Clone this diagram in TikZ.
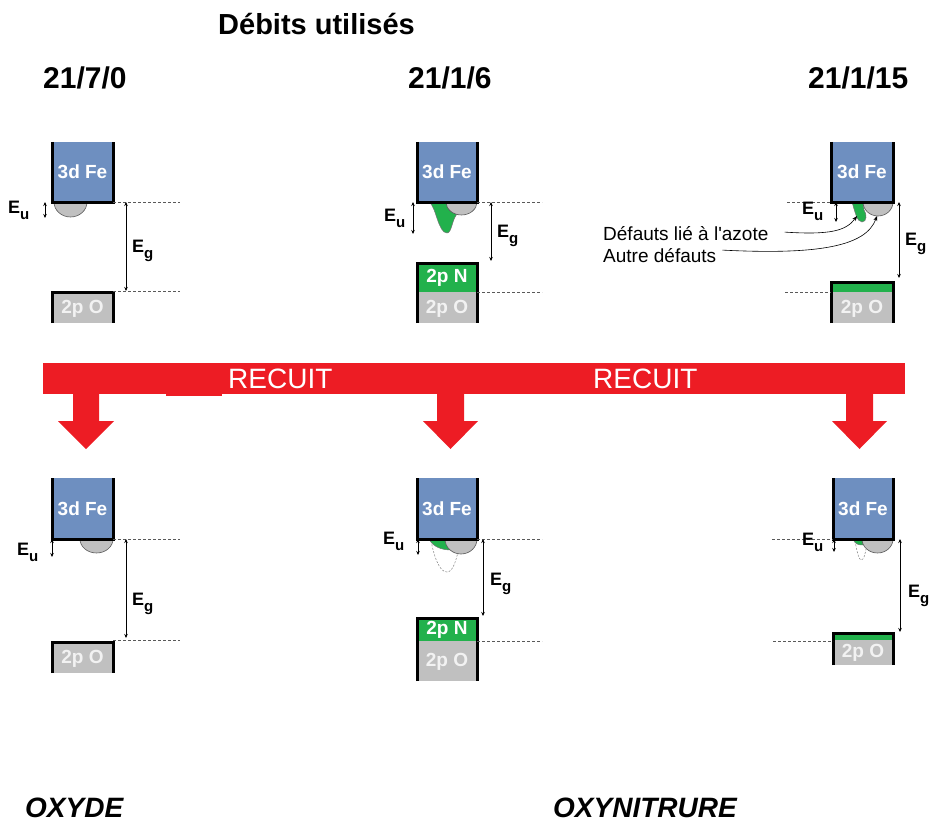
\documentclass[tikz,border=0pt]{standalone}
\usepackage{fontspec}
\setmainfont{Liberation Sans}
\newfontfamily\plainsans{Liberation Sans}
\usetikzlibrary{arrows.meta}
\definecolor{feblue}{RGB}{110,143,192}
\definecolor{bandgray}{RGB}{192,192,192}
\definecolor{ngreen}{RGB}{34,177,76}
\definecolor{recred}{RGB}{237,28,36}
\newcommand{\myE}[1]{{\fontsize{18}{20}\selectfont\bfseries E\raisebox{-6pt}{\fontsize{15}{16}\selectfont #1}}}
\newcommand{\halfell}[4]{({#1-#3},#2) .. controls ({#1-#3},{#2+0.552*#4}) and ({#1-0.552*#3},{#2+#4}) .. ({#1},{#2+#4}) .. controls ({#1+0.552*#3},{#2+#4}) and ({#1+#3},{#2+0.552*#4}) .. ({#1+#3},#2) -- cycle}
\newcommand{\FeBand}[5]{%
  \fill[feblue] (#1,#3) rectangle (#2,#4);
  \draw[bandedge] (#1,#3) -- (#1,#4) -- (#2,#4) -- (#2,#3);
  \node[bandtxt] (#5) at ({(#1+#2)/2},{(#3+#4)/2}) {3d Fe};}
\tikzset{
  lbl/.style={anchor=base west, inner sep=0pt},
  bandtxt/.style={text=white, font=\fontsize{19}{22}\selectfont\bfseries, inner sep=0pt},
  otxt/.style={text=white!95!black, font=\fontsize{19}{22}\selectfont\bfseries, inner sep=0pt},
  dashref/.style={dashed, dash pattern=on 3pt off 2pt, draw=black!65, line width=0.7pt},
  darrow/.style={{Stealth[length=4pt,width=3.5pt]}-{Stealth[length=4pt,width=3.5pt]}, line width=0.6pt},
  bandedge/.style={line width=3pt, line join=miter},
  graydef/.style={fill=bandgray, draw=black!65, line width=0.6pt},
  greendef/.style={fill=ngreen, draw=black!55, line width=0.5pt},
  ghost/.style={dashed, dash pattern=on 2pt off 1.5pt, draw=black!50, line width=0.5pt},
  point/.style={-{Stealth[length=5pt,width=4pt]}, line width=0.6pt},
}
\begin{document}
\begin{tikzpicture}[x=1pt,y=-1pt]
\useasboundingbox (0,0) rectangle (934,824);

% ---------- titles ----------
\node[lbl, font=\fontsize{29}{34}\selectfont\bfseries] (title) at (218,35) {Débits utilisés};
\node[lbl, font=\fontsize{30}{34}\selectfont\bfseries] (t1) at (43,89) {21/7/0};
\node[lbl, font=\fontsize{30}{34}\selectfont\bfseries] (t2) at (408,89) {21/1/6};
\node[lbl, font=\fontsize{30}{34}\selectfont\bfseries] (t3) at (808,89) {21/1/15};

% ================= TOP ROW =================
% column 1
\draw[graydef] \halfell{70.5}{202}{16.5}{15};
\FeBand{52}{113}{142}{202}{fe1}
\fill[bandgray] (52,292) rectangle (113,323);
\draw[bandedge] (52,323) -- (52,292) -- (113,292) -- (113,323);
\node[otxt] (o1) at (82.5,309) {2p O};
\draw[dashref] (113,202) -- (180,202);
\draw[dashref] (113,291) -- (180,291);
\draw[darrow] (45,202) -- (45,218);
\draw[darrow] (126,202) -- (126,291);
\node[lbl] (eu1) at (8,213) {\myE{u}};
\node[lbl] (eg1) at (132,252) {\myE{g}};

% column 2
\draw[greendef] (429,202) .. controls (436,206) and (438,233) .. (447,233) .. controls (452,233) and (452,218) .. (458,213) -- (462,202) -- cycle;
\draw[graydef] \halfell{461.5}{202}{15.5}{13};
\FeBand{417}{477}{142}{202}{fe2}
\fill[ngreen] (417,263) rectangle (477,292);
\fill[bandgray] (417,292) rectangle (477,323);
\draw[bandedge] (417,323) -- (417,263) -- (477,263) -- (477,323);
\node[bandtxt] (n2) at (447,278) {2p N};
\node[otxt] (o2) at (447,309) {2p O};
\draw[dashref] (477,202) -- (542,202);
\draw[dashref] (477,292) -- (542,292);
\draw[darrow] (413,202) -- (413,234);
\draw[darrow] (491,202) -- (491,261);
\node[lbl] (eu2) at (384,221) {\myE{u}};
\node[lbl] (eg2) at (497,237) {\myE{g}};

% column 3
\draw[greendef] (852,202) .. controls (855,212) and (857,222) .. (862,222) .. controls (867,222) and (867,214) .. (864,210) -- (863,202) -- cycle;
\draw[graydef] \halfell{878}{202}{15}{14};
\FeBand{831}{893}{142}{202}{fe3}
\fill[ngreen] (831,282) rectangle (893,292);
\fill[bandgray] (831,292) rectangle (893,323);
\draw[bandedge] (831,323) -- (831,282) -- (893,282) -- (893,323);
\node[otxt] (o3) at (862,309) {2p O};
\draw[dashref] (787,202) -- (831,202);
\draw[dashref] (785,292) -- (831,292);
\draw[darrow] (836,202) -- (836,222);
\draw[darrow] (899,202) -- (899,278);
\node[lbl] (eu3) at (802,214) {\myE{u}};
\node[lbl] (eg3) at (905,245) {\myE{g}};
\node[lbl, font=\plainsans\fontsize{19}{22}\selectfont] (defN) at (603,240) {Défauts lié à l'azote};
\node[lbl, font=\fontsize{19}{22}\selectfont] (defA) at (603,262) {Autre défauts};
\coordinate (gtip) at (857,216);
\coordinate (atip) at (877,216);
\draw[point] (defN.east) ++(16,-1) .. controls (830,235) and (846,231) .. (gtip);
\draw[point] (defA.east) ++(6,-5) .. controls (820,255) and (866,246) .. (atip);

% ================= RECUIT BANNER =================
\fill[recred] (43,363) rectangle (905,394);
\fill[recred] (166,392) rectangle (222,396);
\fill[recred] (73,393) -- (73,421) -- (58,421) -- (86,449) -- (114,421) -- (99,421) -- (99,393) -- cycle;
\fill[recred] (437,393) -- (437,421) -- (423,421) -- (450.5,449) -- (478,421) -- (464,421) -- (464,393) -- cycle;
\fill[recred] (846,393) -- (846,421) -- (832,421) -- (859.5,449) -- (887,421) -- (873,421) -- (873,393) -- cycle;
\node[lbl, text=white, font=\fontsize{28}{32}\selectfont] (r1) at (228,388) {RECUIT};
\node[lbl, text=white, font=\fontsize{28}{32}\selectfont] (r2) at (593,388) {RECUIT};

% ================= BOTTOM ROW =================
% column 1
\draw[graydef] \halfell{96.5}{539}{16.5}{14};
\FeBand{52}{113}{478}{539}{fe4}
\fill[bandgray] (52,642) rectangle (113,673);
\draw[bandedge] (52,673) -- (52,642) -- (113,642) -- (113,673);
\node[otxt] (o4) at (82.5,659) {2p O};
\draw[dashref] (113,539) -- (180,539);
\draw[dashref] (113,640) -- (180,640);
\draw[darrow] (52,539) -- (52,557);
\draw[darrow] (126,539) -- (126,638);
\node[lbl] (eu4) at (17,555) {\myE{u}};
\node[lbl] (eg4) at (132,605) {\myE{g}};

% column 2
\draw[ghost] (431,541) .. controls (435,560) and (440,572) .. (447,572) .. controls (453,572) and (456,560) .. (458,552);
\draw[greendef] (429,539) .. controls (433,547) and (442,550) .. (451,550) -- (449,539) -- cycle;
\draw[graydef] \halfell{461}{539}{16}{15};
\FeBand{417}{477}{478}{539}{fe5}
\fill[ngreen] (417,618) rectangle (477,641);
\fill[bandgray] (417,641) rectangle (477,681);
\draw[bandedge] (417,681) -- (417,618) -- (477,618) -- (477,681);
\node[bandtxt] (n5) at (447,630) {2p N};
\node[otxt] (o5) at (447,662) {2p O};
\draw[dashref] (477,539) -- (542,539);
\draw[dashref] (477,641) -- (542,641);
\draw[darrow] (418,539) -- (418,555);
\draw[darrow] (483,539) -- (483,616);
\node[lbl] (eu5) at (383,544) {\myE{u}};
\node[lbl] (eg5) at (490,585) {\myE{g}};

% column 3
\draw[ghost] (855,541) .. controls (857,552) and (859,560) .. (861,560) .. controls (864,560) and (865,554) .. (866,549);
\draw[greendef] (853,539) .. controls (855,544) and (858,545) .. (863,545) -- (863,539) -- cycle;
\draw[graydef] \halfell{877.5}{539}{15.5}{14};
\FeBand{833}{893}{478}{539}{fe6}
\fill[ngreen] (833,633) rectangle (893,640);
\fill[bandgray] (833,640) rectangle (893,665);
\draw[bandedge] (833,665) -- (833,633) -- (893,633) -- (893,665);
\node[otxt] (o6) at (863,653) {2p O};
\draw[dashref] (772,539) -- (833,539);
\draw[dashref] (773,641) -- (833,641);
\draw[darrow] (834,539) -- (834,552);
\draw[darrow] (900,539) -- (900,632);
\node[lbl] (eu6) at (802,545) {\myE{u}};
\node[lbl] (eg6) at (908,597) {\myE{g}};

% ---------- bottom labels ----------
\node[lbl, font=\fontsize{28}{32}\selectfont\bfseries\itshape] (ox) at (25,817) {OXYDE};
\node[lbl, font=\fontsize{28}{32}\selectfont\bfseries\itshape] (oxn) at (553,817) {OXYNITRURE};
\end{tikzpicture}
\end{document}
